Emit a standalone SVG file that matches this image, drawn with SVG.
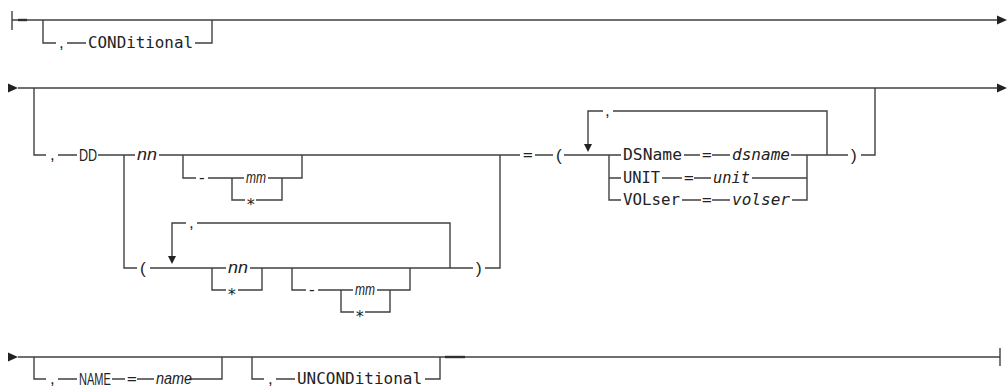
<svg xmlns="http://www.w3.org/2000/svg" width="1007" height="387" viewBox="0 0 1007 387">
<style>
.c{fill:none;stroke:#404040;stroke-width:1.4}
.th{fill:none;stroke:#303030;stroke-width:2.4}
.ah{fill:#222;stroke:none}
text{fill:#222}
.m{font-family:"DejaVu Sans Mono","Liberation Mono",monospace;font-size:16px}
.mi{font-family:"DejaVu Sans Mono","Liberation Mono",monospace;font-size:16px;font-style:italic}
.s{font-family:"Liberation Sans","DejaVu Sans",sans-serif;font-size:17px}
.si{font-family:"Liberation Sans","DejaVu Sans",sans-serif;font-size:17px;font-style:italic}
</style>
<defs>
<path id="ar" d="M0,-4.5 L10,0 L0,4.5 Z"/>
<path id="ad" d="M-4,0 L4,0 L0,8 Z"/>
</defs>
<g id="connectors">
<!-- row 1 -->
<path class="c" d="M12,11 V30 M12,20 H1000"/>
<path class="th" d="M18,20 H27"/>
<use href="#ar" class="ah" x="997" y="20"/>
<path class="c" d="M43,20 V43 H56 M67,43 H86 M195,43 H212 V20"/>
<!-- row 2 -->
<use href="#ar" class="ah" x="8" y="88"/>
<path class="c" d="M18,88 H1000"/>
<use href="#ar" class="ah" x="997" y="88"/>
<path class="c" d="M34,88 V155 H46 M58,155 H77 M98,155 H135 M159,155 H520 M535,155 H553 M564,155 H621 M684,155 H700 M712,155 H730 M791,155 H848 M861,155 H875 V88"/>
<path class="c" d="M183,155 V178 H196 M208,178 H244 M268,178 H302 V155"/>
<path class="c" d="M232,178 V200 H245 M256,200 H282 V178"/>
<path class="c" d="M124,155 V268 H137 M150,268 H226 M250,268 H473 M485,268 H500 V155"/>
<path class="c" d="M212,268 V290 H226 M238,290 H262 V268"/>
<path class="c" d="M292,268 V290 H306 M318,290 H353 M377,290 H410 V268"/>
<path class="c" d="M341,290 V312 H354 M365,312 H390 V290"/>
<path class="c" d="M450,268 V223 H197 M186,223 H172 V256"/>
<use href="#ad" class="ah" x="172" y="256"/>
<path class="c" d="M827,155 V111 H613 M603,111 H588 V144"/>
<use href="#ad" class="ah" x="588" y="144"/>
<path class="c" d="M609,155 V200 H621 M609,178 H621 M662,178 H682 M694,178 H711 M752,178 H807 M682,200 H701 M712,200 H730 M792,200 H807 V155"/>
<!-- row 3 -->
<use href="#ar" class="ah" x="8" y="357"/>
<path class="c" d="M18,357 H1000 M1000,348 V366"/>
<path class="th" d="M445,357 H465"/>
<path class="c" d="M34,357 V379 H46 M58,379 H77 M112,379 H125 M137,379 H154 M189,379 H222 V357"/>
<path class="c" d="M252,357 V379 H264 M276,379 H295 M425,379 H440 V357"/>
</g>
<g id="n-conditional"><text class="s" x="59" y="48">,</text><text class="m" x="88" y="48" textLength="105" lengthAdjust="spacingAndGlyphs">CONDitional</text></g>
<g id="n-dd"><text class="s" x="50" y="160">,</text><text class="s" transform="translate(79,161) scale(0.74,1)">DD</text></g>
<g id="n-nn1"><text class="si" x="137" y="160" textLength="20" lengthAdjust="spacingAndGlyphs">nn</text></g>
<g id="n-dash1"><text class="s" x="199" y="183">-</text></g>
<g id="n-mm1"><text class="si" x="246" y="183" textLength="20" lengthAdjust="spacingAndGlyphs">mm</text></g>
<g id="n-star1"><text class="m" x="246" y="210">*</text></g>
<g id="n-eq"><text class="m" x="523" y="160">=</text></g>
<g id="n-lparen1"><text class="s" x="556" y="161">(</text></g>
<g id="n-loopcomma1"><text class="s" x="605" y="116">,</text></g>
<g id="n-dsname"><text class="m" x="623" y="160" textLength="59" lengthAdjust="spacingAndGlyphs">DSName</text><text class="m" x="702" y="160">=</text><text class="mi" x="732" y="160" textLength="58" lengthAdjust="spacingAndGlyphs">dsname</text></g>
<g id="n-unit"><text class="m" x="623" y="183" textLength="37" lengthAdjust="spacingAndGlyphs">UNIT</text><text class="m" x="684" y="183">=</text><text class="mi" x="713" y="183" textLength="37" lengthAdjust="spacingAndGlyphs">unit</text></g>
<g id="n-volser"><text class="m" x="623" y="205" textLength="57" lengthAdjust="spacingAndGlyphs">VOLser</text><text class="m" x="702" y="205">=</text><text class="mi" x="732" y="205" textLength="58" lengthAdjust="spacingAndGlyphs">volser</text></g>
<g id="n-rparen1"><text class="s" x="851" y="161">)</text></g>
<g id="n-lparen2"><text class="s" x="140" y="274">(</text></g>
<g id="n-loopcomma2"><text class="s" x="189" y="228">,</text></g>
<g id="n-nn2"><text class="si" x="228" y="273" textLength="20" lengthAdjust="spacingAndGlyphs">nn</text></g>
<g id="n-star2"><text class="m" x="227" y="300">*</text></g>
<g id="n-dash2"><text class="s" x="309" y="295">-</text></g>
<g id="n-mm2"><text class="si" x="355" y="295" textLength="20" lengthAdjust="spacingAndGlyphs">mm</text></g>
<g id="n-star3"><text class="m" x="355" y="322">*</text></g>
<g id="n-rparen2"><text class="s" x="476" y="274">)</text></g>
<g id="n-name"><text class="s" x="50" y="384">,</text><text class="s" transform="translate(79,385) scale(0.65,1)">NAME</text><text class="m" x="127" y="384">=</text><text class="si" transform="translate(156,384) scale(0.85,1)">name</text></g>
<g id="n-uncond"><text class="s" x="268" y="384">,</text><text class="m" x="297" y="384" textLength="125" lengthAdjust="spacingAndGlyphs">UNCONDitional</text></g>
</svg>
